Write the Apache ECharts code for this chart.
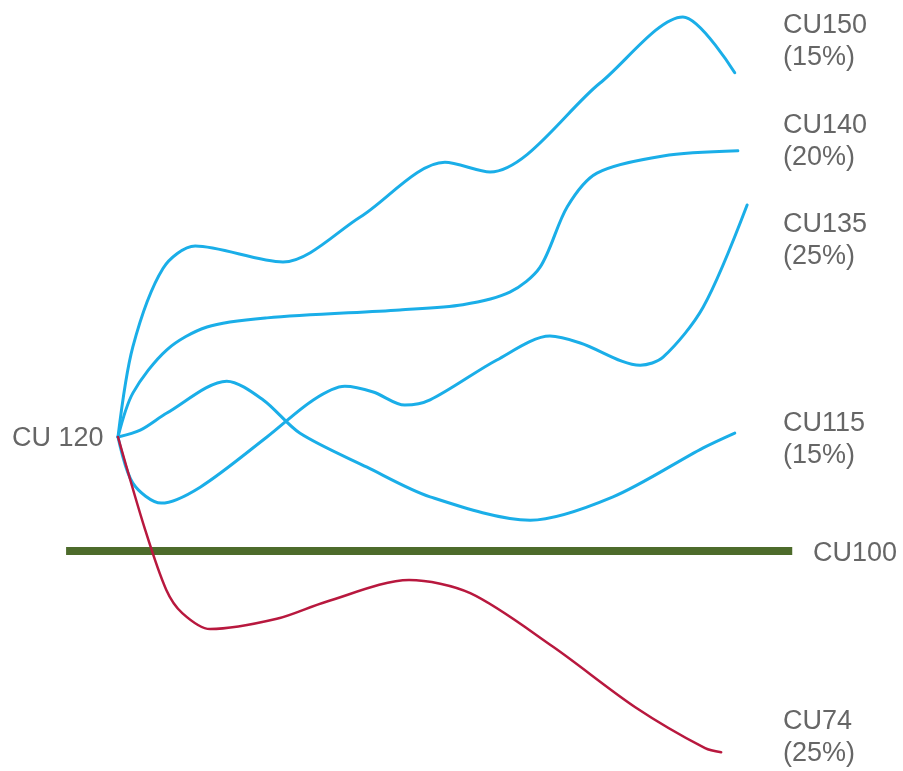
<!DOCTYPE html>
<html>
<head>
<meta charset="utf-8">
<title>CU scenarios</title>
<script src="https://cdn.jsdelivr.net/npm/echarts@6/dist/echarts.min.js"></script>
<style>
  html, body { margin: 0; padding: 0; background: #fff; }
  #chart { width: 903px; height: 771px; }
</style>
</head>
<body>
<div id="chart"></div>
<script>
// Scenario paths: [period, level] pairs; every path starts at level 120.
var pathCU150 = [[0,120],[2.4,135.8],[7.3,149.6],[12.5,153.5],[26.7,150.7],[39.2,158.6],[52.9,168.2],[60.2,166.5],[78.0,182.1],[91.4,193.7],[99.8,183.9]];
var pathCU140 = [[0,120],[2.4,127.7],[7.9,135.3],[14.4,139.3],[24.1,140.9],[45.6,142.3],[55.8,143.2],[63.4,145.4],[68.3,149.8],[72.7,160.4],[77.5,166.3],[88.2,169.3],[100.3,170.2]];
var pathCU135 = [[0,120],[2.4,111.9],[7.0,108.4],[13.3,111.2],[24.1,120.0],[31.6,126.5],[36.7,128.9],[41.3,127.9],[46.4,125.6],[50.5,126.5],[61.3,133.5],[69.9,137.7],[74.8,136.5],[84.5,132.6],[88.2,134.0],[94.7,142.8],[101.8,160.7]];
var pathCU115 = [[0,120],[3.6,121.2],[7.9,124.2],[17.6,129.8],[23.5,126.5],[29.4,120.7],[40.3,114.7],[50.5,109.5],[66.7,105.4],[80.1,109.5],[94.7,118.1],[99.8,120.7]];
var pathCU74 = [[0,120],[4.4,103.7],[7.8,93.2],[10.4,89.1],[14.9,86.3],[25.7,88.1],[33.7,91.1],[47.1,94.9],[57.0,92.6],[70.4,83.2],[83.7,72.6],[95.0,65.4],[97.6,64.7]];
// Reference level CU100 across the horizon
var baseLevel = 100;
var baseSpan = [-8.4, 109.1];

var startLabel = 'CU 120';
var baseLabel = 'CU100';
var endLabels = [
  { name: 'CU150', share: '(15%)' },
  { name: 'CU140', share: '(20%)' },
  { name: 'CU135', share: '(25%)' },
  { name: 'CU115', share: '(15%)' },
  { name: 'CU74',  share: '(25%)' }
];

var BLUE = '#1aaee8';
var RED = '#b8183e';
var GREEN = '#4d6b2b';
var TEXT = '#666666';
var FONT = '"Liberation Sans", Arial, sans-serif';

function pathSeries(name, data, color, width) {
  return {
    name: name,
    type: 'line',
    data: data,
    smooth: 0.3,
    symbol: 'none',
    clip: false,
    lineStyle: { color: color, width: width, cap: 'round', join: 'round' },
    z: 3
  };
}

var chart = echarts.init(document.getElementById('chart'), null, { renderer: 'canvas' });

function label(str, x, y) {
  return {
    type: 'text',
    x: x,
    y: y,
    style: {
      text: str,
      fill: TEXT,
      font: '27px ' + FONT,
      lineHeight: 32,
      verticalAlign: 'middle',
      align: 'left'
    }
  };
}

var labelRows = [41.5, 141.5, 241, 439.5, 737.5];
var graphics = endLabels.map(function (l, i) {
  return label(l.name + '\n' + l.share, 783, labelRows[i]);
});
graphics.push(label(baseLabel, 813, 553.5));
graphics.push(label(startLabel, 12, 438.5));

chart.setOption({
  animation: false,
  backgroundColor: '#ffffff',
  grid: { left: 0, right: 0, top: 0, bottom: 0 },
  xAxis: { type: 'value', min: -118 / 6.18, max: (903 - 118) / 6.18, show: false },
  yAxis: { type: 'value', min: 120 - 334 / 5.7, max: 120 + 437 / 5.7, show: false },
  series: [
    {
      name: baseLabel,
      type: 'line',
      data: [[baseSpan[0], baseLevel], [baseSpan[1], baseLevel]],
      symbol: 'none',
      clip: false,
      lineStyle: { color: GREEN, width: 8 },
      z: 2
    },
    pathSeries('CU150', pathCU150, BLUE, 3),
    pathSeries('CU140', pathCU140, BLUE, 3),
    pathSeries('CU135', pathCU135, BLUE, 3),
    pathSeries('CU115', pathCU115, BLUE, 3),
    pathSeries('CU74', pathCU74, RED, 2.5)
  ],
  graphic: graphics
});
</script>
</body>
</html>
